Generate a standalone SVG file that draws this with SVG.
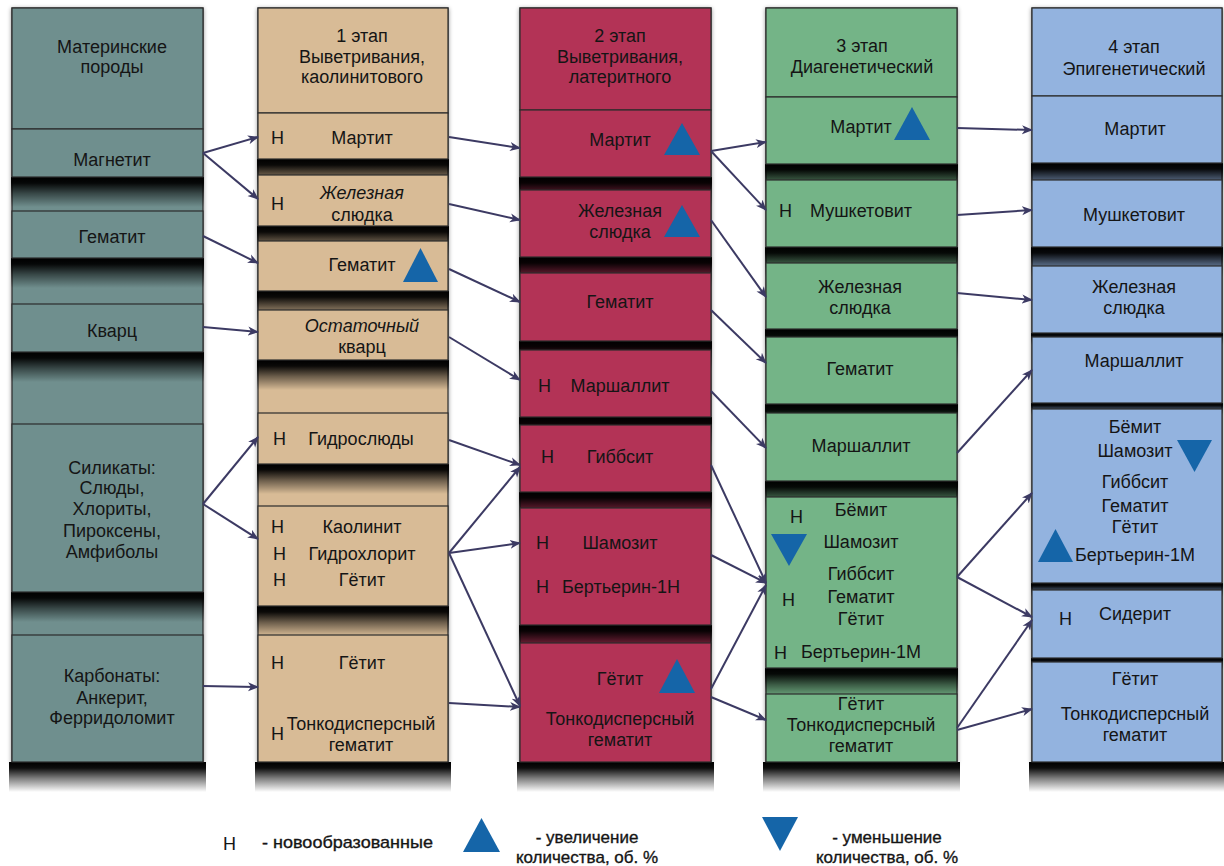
<svg xmlns="http://www.w3.org/2000/svg" width="1224" height="866" viewBox="0 0 1224 866">
<style>
text{font-family:"Liberation Sans",Arial,sans-serif;font-size:18px;fill:#151515}
.m{text-anchor:middle}
.i{font-style:italic}
.lg{font-size:17px;stroke:#151515;stroke-width:0.35}
.col{stroke:#2c2c2c;stroke-width:1.2}
.box{stroke:#2c2c2c;stroke-width:1.2}
.c1{fill:#6f8f8e}.c2{fill:#d8bb96}.c3{fill:#b33356}.c4{fill:#74b487}.c5{fill:#93b3df}
.sh{fill:url(#shg)}
.tri{fill:#1565a8}
.cn path{fill:none;stroke:#3c3a63;stroke-width:2;marker-end:url(#ah)}
</style>
<defs>
<linearGradient id="shg" x1="0" y1="0" x2="0" y2="1">
<stop offset="0" stop-color="#000" stop-opacity="1"/>
<stop offset="0.2" stop-color="#000" stop-opacity="0.95"/>
<stop offset="0.55" stop-color="#000" stop-opacity="0.5"/>
<stop offset="1" stop-color="#000" stop-opacity="0"/>
</linearGradient>
<filter id="cs" x="-10%" y="-2%" width="120%" height="106%"><feDropShadow dx="0" dy="1" stdDeviation="2" flood-color="#000" flood-opacity="0.45"/></filter>
<marker id="ah" markerUnits="userSpaceOnUse" markerWidth="12" markerHeight="10" refX="10" refY="5" orient="auto">
<path d="M0,0.5 L11,5 L0,9.5 L3,5 Z" fill="#3c3a63"/>
</marker>
</defs>
<rect width="1224" height="866" fill="#fff"/>

<!-- Column 1 -->
<g id="col1">
<rect class="col c1" x="12" y="8" width="191" height="754" filter="url(#cs)"/>
<g id="c1-head"><rect class="box c1" x="12" y="8" width="191" height="121"/>
<text class="m" x="112" y="53">Материнские</text><text class="m" x="112" y="73">породы</text></g>
<g id="c1-magnetite"><rect class="sh" x="11" y="177" width="193" height="30"/><rect class="box c1" x="12" y="129" width="191" height="48"/>
<text class="m" x="112" y="166">Магнетит</text></g>
<g id="c1-hematite"><rect class="sh" x="11" y="258" width="193" height="30"/><rect class="box c1" x="12" y="211" width="191" height="47"/>
<text class="m" x="112" y="243">Гематит</text></g>
<g id="c1-quartz"><rect class="sh" x="11" y="352" width="193" height="30"/><rect class="box c1" x="12" y="304" width="191" height="48"/>
<text class="m" x="112" y="337">Кварц</text></g>
<g id="c1-silicates"><rect class="sh" x="11" y="592" width="193" height="30"/><rect class="box c1" x="12" y="424" width="191" height="168"/>
<text class="m" x="112" y="474">Силикаты:</text><text class="m" x="112" y="494">Слюды,</text><text class="m" x="112" y="515">Хлориты,</text><text class="m" x="112" y="537">Пироксены,</text><text class="m" x="112" y="558">Амфиболы</text></g>
<g id="c1-carbonates"><rect class="sh" x="9" y="762" width="197" height="30"/><rect class="box c1" x="12" y="635" width="191" height="127"/>
<text class="m" x="112" y="682">Карбонаты:</text><text class="m" x="112" y="704">Анкерит,</text><text class="m" x="112" y="724">Ферридоломит</text></g>
</g>

<!-- Column 2 -->
<g id="col2">
<rect class="col c2" x="258" y="8" width="190" height="754" filter="url(#cs)"/>
<g id="c2-head"><rect class="box c2" x="258" y="8" width="190" height="105"/>
<text class="m" x="362" y="42">1 этап</text><text class="m" x="362" y="63">Выветривания,</text><text class="m" x="362" y="83">каолинитового</text></g>
<g id="c2-martite"><rect class="sh" x="257" y="159" width="192" height="30"/><rect class="box c2" x="258" y="113" width="190" height="46"/>
<text x="271" y="144">Н</text><text class="m" x="362" y="144">Мартит</text></g>
<g id="c2-specularite"><rect class="sh" x="257" y="226" width="192" height="30"/><rect class="box c2" x="258" y="175" width="190" height="51"/>
<text x="271" y="210">Н</text><text class="m i" x="362" y="199">Железная</text><text class="m" x="362" y="221">слюдка</text></g>
<g id="c2-hematite"><rect class="sh" x="257" y="291" width="192" height="30"/><rect class="box c2" x="258" y="241" width="190" height="50"/>
<text class="m" x="362" y="271">Гематит</text><polygon class="tri" points="403,282 438,282 420.5,248"/></g>
<g id="c2-quartz"><rect class="sh" x="257" y="360" width="192" height="30"/><rect class="box c2" x="258" y="310" width="190" height="50"/>
<text class="m i" x="362" y="332">Остаточный</text><text class="m" x="362" y="353">кварц</text></g>
<g id="c2-hydromica"><rect class="sh" x="257" y="464" width="192" height="30"/><rect class="box c2" x="258" y="413" width="190" height="51"/>
<text x="273" y="445">Н</text><text class="m" x="361" y="445">Гидрослюды</text></g>
<g id="c2-kaolinite"><rect class="sh" x="257" y="606" width="192" height="30"/><rect class="box c2" x="258" y="506" width="190" height="100"/>
<text x="271" y="533">Н</text><text class="m" x="362" y="533">Каолинит</text>
<text x="273" y="560">Н</text><text class="m" x="362" y="560">Гидрохлорит</text>
<text x="273" y="586">Н</text><text class="m" x="362" y="586">Гётит</text></g>
<g id="c2-goethite"><rect class="sh" x="255" y="762" width="196" height="30"/><rect class="box c2" x="258" y="635" width="190" height="127"/>
<text x="271" y="669">Н</text><text class="m" x="362" y="669">Гётит</text>
<text x="271" y="740">Н</text><text class="m" x="361" y="730">Тонкодисперсный</text><text class="m" x="361" y="751">гематит</text></g>
</g>

<!-- Column 3 -->
<g id="col3">
<rect class="col c3" x="520" y="8" width="191" height="754" filter="url(#cs)"/>
<g id="c3-head"><rect class="box c3" x="520" y="8" width="191" height="102"/>
<text class="m" x="620" y="42">2 этап</text><text class="m" x="620" y="63">Выветривания,</text><text class="m" x="620" y="83">латеритного</text></g>
<g id="c3-martite"><rect class="sh" x="519" y="177" width="193" height="30"/><rect class="box c3" x="520" y="110" width="191" height="67"/>
<text class="m" x="620" y="146">Мартит</text><polygon class="tri" points="664,155 700,155 682,123"/></g>
<g id="c3-specularite"><rect class="sh" x="519" y="257" width="193" height="30"/><rect class="box c3" x="520" y="190" width="191" height="67"/>
<text class="m" x="620" y="217">Железная</text><text class="m" x="620" y="238">слюдка</text><polygon class="tri" points="664,237 700,237 682,205"/></g>
<g id="c3-hematite"><rect class="sh" x="519" y="341" width="193" height="30"/><rect class="box c3" x="520" y="273" width="191" height="68"/>
<text class="m" x="620" y="308">Гематит</text></g>
<g id="c3-marshallite"><rect class="sh" x="519" y="417" width="193" height="30"/><rect class="box c3" x="520" y="350" width="191" height="67"/>
<text x="538" y="392">Н</text><text class="m" x="620" y="392">Маршаллит</text></g>
<g id="c3-gibbsite"><rect class="sh" x="519" y="492" width="193" height="30"/><rect class="box c3" x="520" y="425" width="191" height="67"/>
<text x="541" y="463">Н</text><text class="m" x="620" y="463">Гиббсит</text></g>
<g id="c3-chamosite"><rect class="sh" x="519" y="625" width="193" height="30"/><rect class="box c3" x="520" y="508" width="191" height="117"/>
<text x="536" y="549">Н</text><text class="m" x="620" y="549">Шамозит</text>
<text x="536" y="593">Н</text><text class="m" x="621" y="593">Бертьерин-1Н</text></g>
<g id="c3-goethite"><rect class="sh" x="517" y="762" width="197" height="30"/><rect class="box c3" x="520" y="643" width="191" height="119"/>
<text class="m" x="620" y="685">Гётит</text><polygon class="tri" points="659,693 695,693 677,659"/>
<text class="m" x="620" y="725">Тонкодисперсный</text><text class="m" x="620" y="746">гематит</text></g>
</g>

<!-- Column 4 -->
<g id="col4">
<rect class="col c4" x="766" y="8" width="191" height="754" filter="url(#cs)"/>
<g id="c4-head"><rect class="box c4" x="766" y="8" width="191" height="89"/>
<text class="m" x="862" y="52">3 этап</text><text class="m" x="862" y="73">Диагенетический</text></g>
<g id="c4-martite"><rect class="sh" x="765" y="164" width="193" height="30"/><rect class="box c4" x="766" y="97" width="191" height="67"/>
<text class="m" x="861" y="133">Мартит</text><polygon class="tri" points="894,140 930,140 912,107"/></g>
<g id="c4-mushketovite"><rect class="sh" x="765" y="247" width="193" height="30"/><rect class="box c4" x="766" y="180" width="191" height="67"/>
<text x="779" y="217">Н</text><text class="m" x="861" y="217">Мушкетовит</text></g>
<g id="c4-specularite"><rect class="sh" x="765" y="329" width="193" height="30"/><rect class="box c4" x="766" y="263" width="191" height="66"/>
<text class="m" x="860" y="293">Железная</text><text class="m" x="860" y="314">слюдка</text></g>
<g id="c4-hematite"><rect class="sh" x="765" y="404" width="193" height="30"/><rect class="box c4" x="766" y="337" width="191" height="67"/>
<text class="m" x="860" y="375">Гематит</text></g>
<g id="c4-marshallite"><rect class="sh" x="765" y="481" width="193" height="30"/><rect class="box c4" x="766" y="413" width="191" height="68"/>
<text class="m" x="861" y="452">Маршаллит</text></g>
<g id="c4-boehmite"><rect class="sh" x="765" y="668" width="193" height="30"/><rect class="box c4" x="766" y="497" width="191" height="171"/>
<text x="790" y="523">Н</text><text class="m" x="861" y="516">Бёмит</text>
<polygon class="tri" points="771,534 807,534 789,566"/>
<text class="m" x="861" y="548">Шамозит</text>
<text class="m" x="861" y="580">Гиббсит</text>
<text x="782" y="606">Н</text><text class="m" x="861" y="603">Гематит</text>
<text class="m" x="861" y="625">Гётит</text>
<text x="774" y="659">Н</text><text class="m" x="861" y="658">Бертьерин-1М</text></g>
<g id="c4-goethite"><rect class="sh" x="763" y="762" width="197" height="30"/><rect class="box c4" x="766" y="694" width="191" height="68"/>
<text class="m" x="861" y="710">Гётит</text><text class="m" x="861" y="731">Тонкодисперсный</text><text class="m" x="861" y="752">гематит</text></g>
</g>

<!-- Column 5 -->
<g id="col5">
<rect class="col c5" x="1032" y="8" width="190" height="754" filter="url(#cs)"/>
<g id="c5-head"><rect class="box c5" x="1032" y="8" width="190" height="88"/>
<text class="m" x="1134" y="53">4 этап</text><text class="m" x="1134" y="75">Эпигенетический</text></g>
<g id="c5-martite"><rect class="sh" x="1031" y="163" width="192" height="30"/><rect class="box c5" x="1032" y="96" width="190" height="67"/>
<text class="m" x="1135" y="135">Мартит</text></g>
<g id="c5-mushketovite"><rect class="sh" x="1031" y="247" width="192" height="30"/><rect class="box c5" x="1032" y="180" width="190" height="67"/>
<text class="m" x="1134" y="221">Мушкетовит</text></g>
<g id="c5-specularite"><rect class="sh" x="1031" y="333" width="192" height="12"/><rect class="box c5" x="1032" y="266" width="190" height="67"/>
<text class="m" x="1134" y="293">Железная</text><text class="m" x="1134" y="314">слюдка</text></g>
<g id="c5-marshallite"><rect class="sh" x="1031" y="403" width="192" height="12"/><rect class="box c5" x="1032" y="337" width="190" height="66"/>
<text class="m" x="1134" y="367">Маршаллит</text></g>
<g id="c5-boehmite"><rect class="sh" x="1031" y="583" width="192" height="14"/><rect class="box c5" x="1032" y="409" width="190" height="174"/>
<text class="m" x="1135" y="433">Бёмит</text>
<text class="m" x="1135" y="457">Шамозит</text><polygon class="tri" points="1177,440 1212,440 1194.5,472"/>
<text class="m" x="1135" y="488">Гиббсит</text>
<text class="m" x="1135" y="512">Гематит</text>
<text class="m" x="1135" y="533">Гётит</text>
<polygon class="tri" points="1038,562 1073,562 1055.5,529"/>
<text class="m" x="1135" y="561">Бертьерин-1М</text></g>
<g id="c5-siderite"><rect class="sh" x="1031" y="658" width="192" height="12"/><rect class="box c5" x="1032" y="590" width="190" height="68"/>
<text x="1059" y="625">Н</text><text class="m" x="1135" y="620">Сидерит</text></g>
<g id="c5-goethite"><rect class="sh" x="1029" y="762" width="195" height="30"/><rect class="box c5" x="1032" y="662" width="190" height="100"/>
<text class="m" x="1135" y="685">Гётит</text><text class="m" x="1135" y="720">Тонкодисперсный</text><text class="m" x="1135" y="741">гематит</text></g>
</g>

<!-- Connectors -->
<g id="connectors" class="cn">
<path d="M203,153 L258,137"/>
<path d="M203,153 L258,199"/>
<path d="M203,236 L258,263"/>
<path d="M203,327 L258,332"/>
<path d="M203,504 L258,437"/>
<path d="M203,504 L258,539"/>
<path d="M203,686 L258,687"/>

<path d="M449,137 L520,148"/>
<path d="M449,204 L520,220"/>
<path d="M449,269 L520,302"/>
<path d="M449,337 L520,380"/>
<path d="M449,440 L520,465"/>
<path d="M449,553 L520,467"/>
<path d="M449,553 L520,543"/>
<path d="M449,553 L520,706"/>
<path d="M449,703 L520,707"/>

<path d="M711,151 L766,142"/>
<path d="M711,151 L766,210"/>
<path d="M711,220 L766,297"/>
<path d="M711,310 L766,363"/>
<path d="M711,391 L766,448"/>
<path d="M711,465 L766,583"/>
<path d="M711,555 L766,583"/>
<path d="M711,689 L766,585"/>
<path d="M711,697 L766,720"/>

<path d="M957,128 L1032,130"/>
<path d="M957,215 L1032,210"/>
<path d="M957,293 L1032,300"/>
<path d="M957,453 L1032,370"/>
<path d="M957,577 L1032,493"/>
<path d="M957,577 L1032,617"/>
<path d="M957,728 L1032,620"/>
<path d="M957,730 L1032,709"/>
</g>

<!-- Legend -->
<g id="legend">
<text x="223" y="850">Н</text>
<text class="lg" x="262" y="848" textLength="171" lengthAdjust="spacingAndGlyphs">- новообразованные</text>
<polygon class="tri" points="463,852 500,852 481.5,818"/>
<text class="lg m" x="587" y="843">- увеличение</text>
<text class="lg m" x="587" y="863">количества, об. %</text>
<polygon class="tri" points="762,817 798,817 780,851"/>
<text class="lg m" x="887" y="843">- уменьшение</text>
<text class="lg m" x="887" y="863">количества, об. %</text>
</g>
</svg>
